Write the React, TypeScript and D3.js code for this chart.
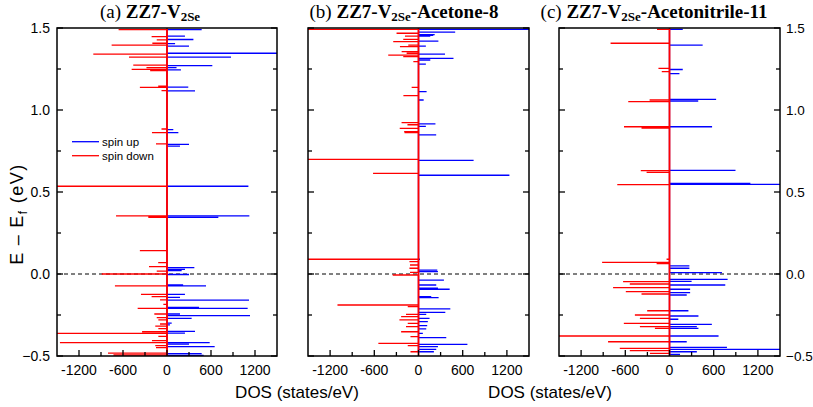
import React from 'react';
import * as d3 from 'd3';

type Pt = [number, number]; // [energy (eV), DOS (states/eV)]

const energyTicks = [-0.5, 0, 0.5, 1.0, 1.5];
const energyMinorTicks = [-0.25, 0.25, 0.75, 1.25];
const dosTicks = [-1200, -600, 0, 600, 1200];
const dosMinorTicks = [-900, -300, 300, 900];

const panelLabels = ['(a)', '(b)', '(c)'];
const panelSuffix = ['', '-Acetone-8', '-Acetonitrile-11'];

// Panel (a) ZZ7-V2Se
const upA: Pt[] = [
  [1.49, 473], [1.45, 245], [1.43, 360], [1.405, 110], [1.39, 300], [1.346, 1600], [1.323, 873],
  [1.27, 618], [1.258, 130], [1.245, 190], [1.14, 290], [1.117, 382], [0.88, 86], [0.862, 155],
  [0.79, 300], [0.78, 177], [0.535, 1110], [0.354, 1123], [0.345, 700], [0.039, 373], [0.028, 245],
  [0.02, 200], [-0.003, 300], [-0.067, 220], [-0.073, 532], [-0.124, 245], [-0.142, 177],
  [-0.159, 1118], [-0.203, 436], [-0.209, 1100], [-0.244, 177], [-0.254, 1132], [-0.27, 336],
  [-0.3, 64], [-0.31, 40], [-0.35, 382], [-0.36, 245], [-0.419, 582], [-0.428, 300], [-0.443, 650],
  [-0.486, 473], [-0.496, 500],
];
const downA: Pt[] = [
  [1.49, -660], [1.447, -210], [1.427, -140], [1.407, -200], [1.396, -755], [1.341, -1005],
  [1.323, -518], [1.274, -460], [1.258, -280], [1.248, -482], [1.24, -230], [1.146, -120],
  [1.138, -370], [1.118, -75], [0.884, -75], [0.862, -205], [0.793, -150], [0.535, -1600],
  [0.354, -695], [0.346, -255], [0.142, -370], [0.069, -120], [0.045, -245], [0.018, -140],
  [0.0, -890], [-0.073, -710], [-0.124, -355], [-0.138, -210], [-0.158, -95], [-0.185, -50],
  [-0.209, -400], [-0.244, -173], [-0.266, -140], [-0.28, -118], [-0.305, -95], [-0.318, -160],
  [-0.333, -118], [-0.352, -340], [-0.362, -1600], [-0.38, -118], [-0.406, -205], [-0.419, -1460],
  [-0.437, -160], [-0.449, -150], [-0.483, -805], [-0.494, -730],
];

// Panel (b) ZZ7-V2Se-Acetone-8
const upB: Pt[] = [
  [1.492, 1600], [1.475, 498], [1.46, 220], [1.455, 200], [1.45, 160], [1.42, 270], [1.39, 100],
  [1.341, 360], [1.315, 475], [1.305, 160], [1.28, 100], [1.112, 110], [1.061, 70], [0.915, 230],
  [0.9, 100], [0.848, 240], [0.693, 748], [0.602, 1234], [0.09, 20], [0.024, 255], [0.014, 264],
  [-0.037, 345], [-0.067, 241], [-0.087, 264], [-0.093, 423], [-0.138, 173], [-0.144, 273],
  [-0.213, 432], [-0.234, 364], [-0.246, 105], [-0.27, 150], [-0.29, 127], [-0.315, 118],
  [-0.335, 105], [-0.362, 59], [-0.388, 377], [-0.429, 664], [-0.443, 264], [-0.46, 241],
  [-0.474, 209],
];
const downB: Pt[] = [
  [1.492, -1600], [1.468, -298], [1.451, -184], [1.431, -207], [1.417, -343], [1.396, -139],
  [1.386, -252], [1.356, -229], [1.346, -161], [1.335, -411], [1.325, -207], [1.295, -70],
  [1.138, -93], [1.088, -205], [0.923, -230], [0.91, -150], [0.888, -255], [0.868, -195],
  [0.862, -190], [0.699, -1600], [0.614, -617], [0.09, -1600], [0.075, -123], [0.055, -115],
  [0.035, -123], [0.01, -115], [-0.006, -350], [-0.189, -1100], [-0.199, -146], [-0.246, -170],
  [-0.26, -236], [-0.28, -259], [-0.301, -146], [-0.321, -170], [-0.352, -236], [-0.382, -109],
  [-0.423, -545], [-0.437, -146], [-0.474, -109],
];

// Panel (c) ZZ7-V2Se-Acetonitrile-11
const upC: Pt[] = [
  [1.492, 180], [1.396, 450], [1.247, 180], [1.222, 135], [1.065, 633], [1.055, 390], [0.898, 578],
  [0.632, 896], [0.552, 1098], [0.547, 1600], [0.049, 270], [0.035, 270], [0.008, 712],
  [-0.033, 789], [-0.045, 300], [-0.067, 757], [-0.093, 280], [-0.114, 280], [-0.128, 234],
  [-0.224, 257], [-0.256, 393], [-0.276, 120], [-0.307, 575], [-0.321, 371], [-0.331, 393],
  [-0.378, 666], [-0.413, 234], [-0.447, 780], [-0.46, 1600], [-0.474, 371], [-0.49, 143],
];
const downC: Pt[] = [
  [1.492, -170], [1.407, -800], [1.254, -150], [1.234, -105], [1.061, -270], [1.051, -560],
  [0.898, -618], [0.889, -380], [0.63, -390], [0.62, -311], [0.545, -709], [0.09, -40],
  [0.071, -915], [0.063, -175], [-0.047, -630], [-0.061, -539], [-0.083, -766], [-0.108, -593],
  [-0.122, -380], [-0.224, -303], [-0.25, -470], [-0.27, -402], [-0.301, -620], [-0.321, -402],
  [-0.331, -198], [-0.378, -1600], [-0.413, -834], [-0.453, -675], [-0.467, -539], [-0.484, -266],
];

const upSeries = [upA, upB, upC];
const downSeries = [downA, downB, downC];

const W = 813;
const H = 407;
const TOP = 28;
const BOTTOM = 356;
const panelBounds: [number, number][] = [[57, 277], [308, 529], [559, 780]];
const titleCenters = [150, 404, 654];
const dosLabelCenters = [297, 550];

const SANS = 'Arial, "Liberation Sans", Helvetica, sans-serif';
const SERIF = '"Times New Roman", "Liberation Serif", Times, serif';

function spikes(data: Pt[], x: d3.ScaleLinear<number, number>, y: d3.ScaleLinear<number, number>) {
  const sorted = [...data].sort((a, b) => a[0] - b[0]);
  const pts: [number, number][] = [];
  sorted.forEach(([e, v]) => {
    pts.push([0, e], [v, e], [0, e]);
  });
  return d3.line<[number, number]>().x((d) => x(d[0])).y((d) => y(d[1]))(pts) || '';
}

function Panel({ idx }: { idx: number }) {
  const [l, r] = panelBounds[idx];
  const x = d3.scaleLinear().domain([-1500, 1500]).range([l, r]);
  const y = d3.scaleLinear().domain([-0.5, 1.5]).range([BOTTOM, TOP]);
  const clipId = `clip${idx}`;
  const baseline = d3.line<[number, number]>().x((d) => x(d[0])).y((d) => y(d[1]))([[0, -0.5], [0, 1.5]]) || '';
  return (
    <g>
      <defs>
        <clipPath id={clipId}>
          <rect x={l} y={TOP} width={r - l} height={BOTTOM - TOP} />
        </clipPath>
      </defs>
      <g clipPath={`url(#${clipId})`}>
        <line x1={l} x2={r} y1={y(0)} y2={y(0)} stroke="#000" strokeWidth={1} strokeDasharray="4,3" />
        <path d={spikes(upSeries[idx], x, y)} fill="none" stroke="#0000ff" strokeWidth={1.3} />
        <path d={spikes(downSeries[idx], x, y)} fill="none" stroke="#ff0000" strokeWidth={1.3} />
        <path d={baseline} fill="none" stroke="#ff0000" strokeWidth={1.6} />
      </g>
      {dosTicks.map((t) => (
        <line key={'xt' + t} x1={x(t)} x2={x(t)} y1={BOTTOM} y2={BOTTOM - 6} stroke="#000" strokeWidth={1.3} />
      ))}
      {dosMinorTicks.map((t) => (
        <line key={'xm' + t} x1={x(t)} x2={x(t)} y1={BOTTOM} y2={BOTTOM - 4} stroke="#000" strokeWidth={1.3} />
      ))}
      {energyTicks.map((t) => (
        <g key={'yt' + t}>
          <line x1={l} x2={l + 6} y1={y(t)} y2={y(t)} stroke="#000" strokeWidth={1.3} />
          <line x1={r} x2={r - 6} y1={y(t)} y2={y(t)} stroke="#000" strokeWidth={1.3} />
        </g>
      ))}
      {energyMinorTicks.map((t) => (
        <g key={'ym' + t}>
          <line x1={l} x2={l + 4} y1={y(t)} y2={y(t)} stroke="#000" strokeWidth={1.3} />
          <line x1={r} x2={r - 4} y1={y(t)} y2={y(t)} stroke="#000" strokeWidth={1.3} />
        </g>
      ))}
      <rect x={l} y={TOP} width={r - l} height={BOTTOM - TOP} fill="none" stroke="#000" strokeWidth={1.5} />
      {dosTicks.map((t) => (
        <text key={'xl' + t} x={x(t)} y={BOTTOM + 19} textAnchor="middle" fontFamily={SANS} fontSize={14} fill="#000">
          {t}
        </text>
      ))}
      {idx === 0 &&
        energyTicks.map((t) => (
          <text key={'yl' + t} x={l - 7} y={y(t) + 5} textAnchor="end" fontFamily={SANS} fontSize={14} fill="#000">
            {d3.format('.1f')(t)}
          </text>
        ))}
      {idx === 2 &&
        energyTicks.map((t) => (
          <text key={'yr' + t} x={r + 6} y={y(t) + 5} textAnchor="start" fontFamily={SANS} fontSize={13.5} fill="#000">
            {d3.format('.1f')(t)}
          </text>
        ))}
      <text x={titleCenters[idx]} y={18} textAnchor="middle" fontFamily={SERIF} fontSize={19} fill="#000">
        <tspan>{panelLabels[idx]} </tspan>
        <tspan fontWeight="bold">ZZ7-V</tspan>
        <tspan fontWeight="bold" fontSize={13} dy={3}>2Se</tspan>
        {panelSuffix[idx] && (
          <tspan fontWeight="bold" dy={-3}>{panelSuffix[idx]}</tspan>
        )}
      </text>
      {idx === 0 && (
        <g>
          <line x1={72} x2={99} y1={141.7} y2={141.7} stroke="#0000ff" strokeWidth={1.3} />
          <text x={102} y={146} fontFamily={SANS} fontSize={11.5} fill="#000">spin up</text>
          <line x1={72} x2={99} y1={155.7} y2={155.7} stroke="#ff0000" strokeWidth={1.3} />
          <text x={102} y={160} fontFamily={SANS} fontSize={11.5} fill="#000">spin down</text>
        </g>
      )}
    </g>
  );
}

export default function App() {
  return (
    <div style={{ position: 'absolute', left: 0, top: 0 }}>
      <svg width={W} height={H} style={{ display: 'block', background: '#fff' }}>
        <rect x={0} y={0} width={W} height={H} fill="#fff" />
        {[0, 1, 2].map((i) => (
          <Panel key={i} idx={i} />
        ))}
        {dosLabelCenters.map((cx, i) => (
          <text key={'dl' + i} x={cx} y={398} textAnchor="middle" fontFamily={SANS} fontSize={17} fill="#000">
            DOS (states/eV)
          </text>
        ))}
        <text transform={`translate(23,214) rotate(-90)`} textAnchor="middle" fontFamily={SANS} fontSize={18} letterSpacing={1.5} fill="#000">
          <tspan>E</tspan>
          <tspan dx={6}>–</tspan>
          <tspan dx={6}>E</tspan>
          <tspan fontSize={12} dy={4}>f</tspan>
          <tspan dy={-4} dx={6}>(eV)</tspan>
        </text>
      </svg>
    </div>
  );
}
